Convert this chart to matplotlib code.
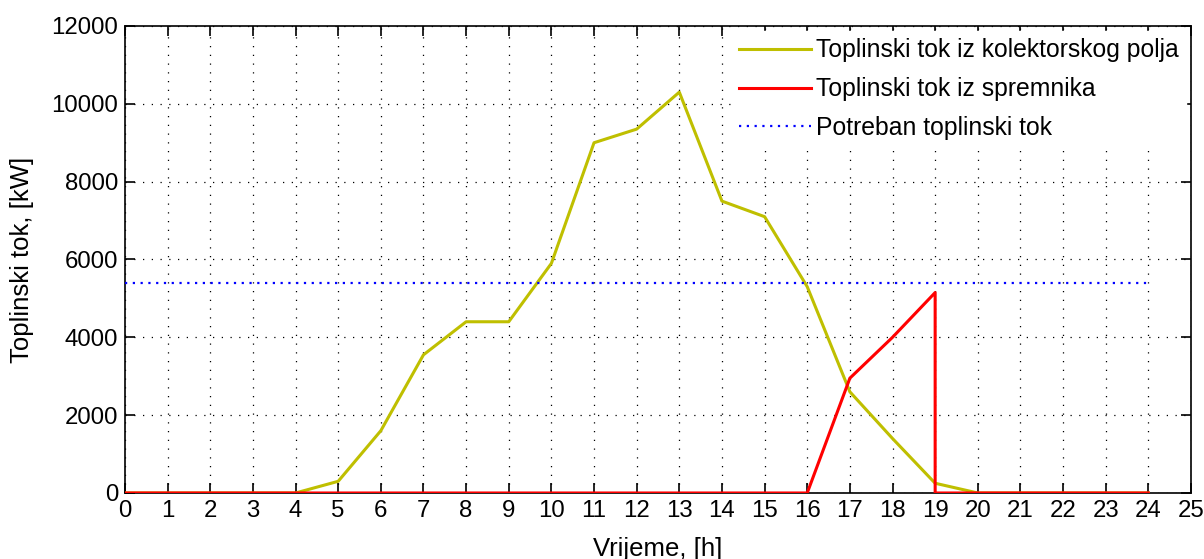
import numpy as np
import matplotlib.pyplot as plt

plt.rcParams['font.family'] = ['Liberation Sans', 'DejaVu Sans']

hours = [0, 1, 2, 3, 4, 5, 6, 7, 8, 9, 10, 11, 12, 13, 14, 15, 16, 17, 18, 19, 20, 21, 22, 23, 24]
kolektor = [0, 0, 0, 0, 0, 300, 1600, 3550, 4400, 4400, 5900, 9000, 9350, 10300,
            7500, 7100, 5300, 2600, 1400, 250, 0, 0, 0, 0, 0]

spremnik_t = [0, 16, 17, 18, 19, 19, 19, 20, 21, 22, 23, 24]
spremnik = [0, 0, 2950, 4000, 5150, 2600, 0, 0, 0, 0, 0, 0]

potreban_t = [0, 24]
potreban = [5400, 5400]

fig = plt.figure(figsize=(12.04, 5.59), dpi=100)
ax = fig.add_axes([0.1038, 0.1181, 0.8854, 0.8354])

ax.plot(hours, kolektor, color='#bfbf00', lw=2.2, zorder=3, label='Toplinski tok iz kolektorskog polja')
ax.plot(spremnik_t, spremnik, color='#ff0000', lw=2.2, zorder=3, label='Toplinski tok iz spremnika')
ax.plot(potreban_t, potreban, color='#0000ff', lw=1.6, ls=(0, (1, 2.5)), zorder=3,
        label='Potreban toplinski tok')

ax.set_xlim(0, 25)
ax.set_ylim(0, 12000)
ax.set_xticks(np.arange(0, 26, 1))
ax.set_yticks(np.arange(0, 12001, 2000))
ax.grid(True, color='black', ls=(0, (1, 6)), lw=0.9)
ax.tick_params(direction='in', length=7, width=1.2, top=True, right=True,
               labelsize=17.3, pad=5)
for s in ax.spines.values():
    s.set_linewidth(1.2)

ax.set_xlabel('Vrijeme, [h]', fontsize=18.5, labelpad=11)
ax.set_ylabel('Toplinski tok, [kW]', fontsize=18.5, labelpad=12)

leg = ax.legend(loc='upper right', fontsize=17.8, frameon=True, fancybox=False,
                handlelength=2.9, handletextpad=0.2, labelspacing=0.6,
                borderaxespad=0.2, borderpad=0.3)
leg.get_frame().set_edgecolor('white')
leg.get_frame().set_alpha(1)
leg.set_zorder(5)

fig.savefig('out.png', dpi=100)
